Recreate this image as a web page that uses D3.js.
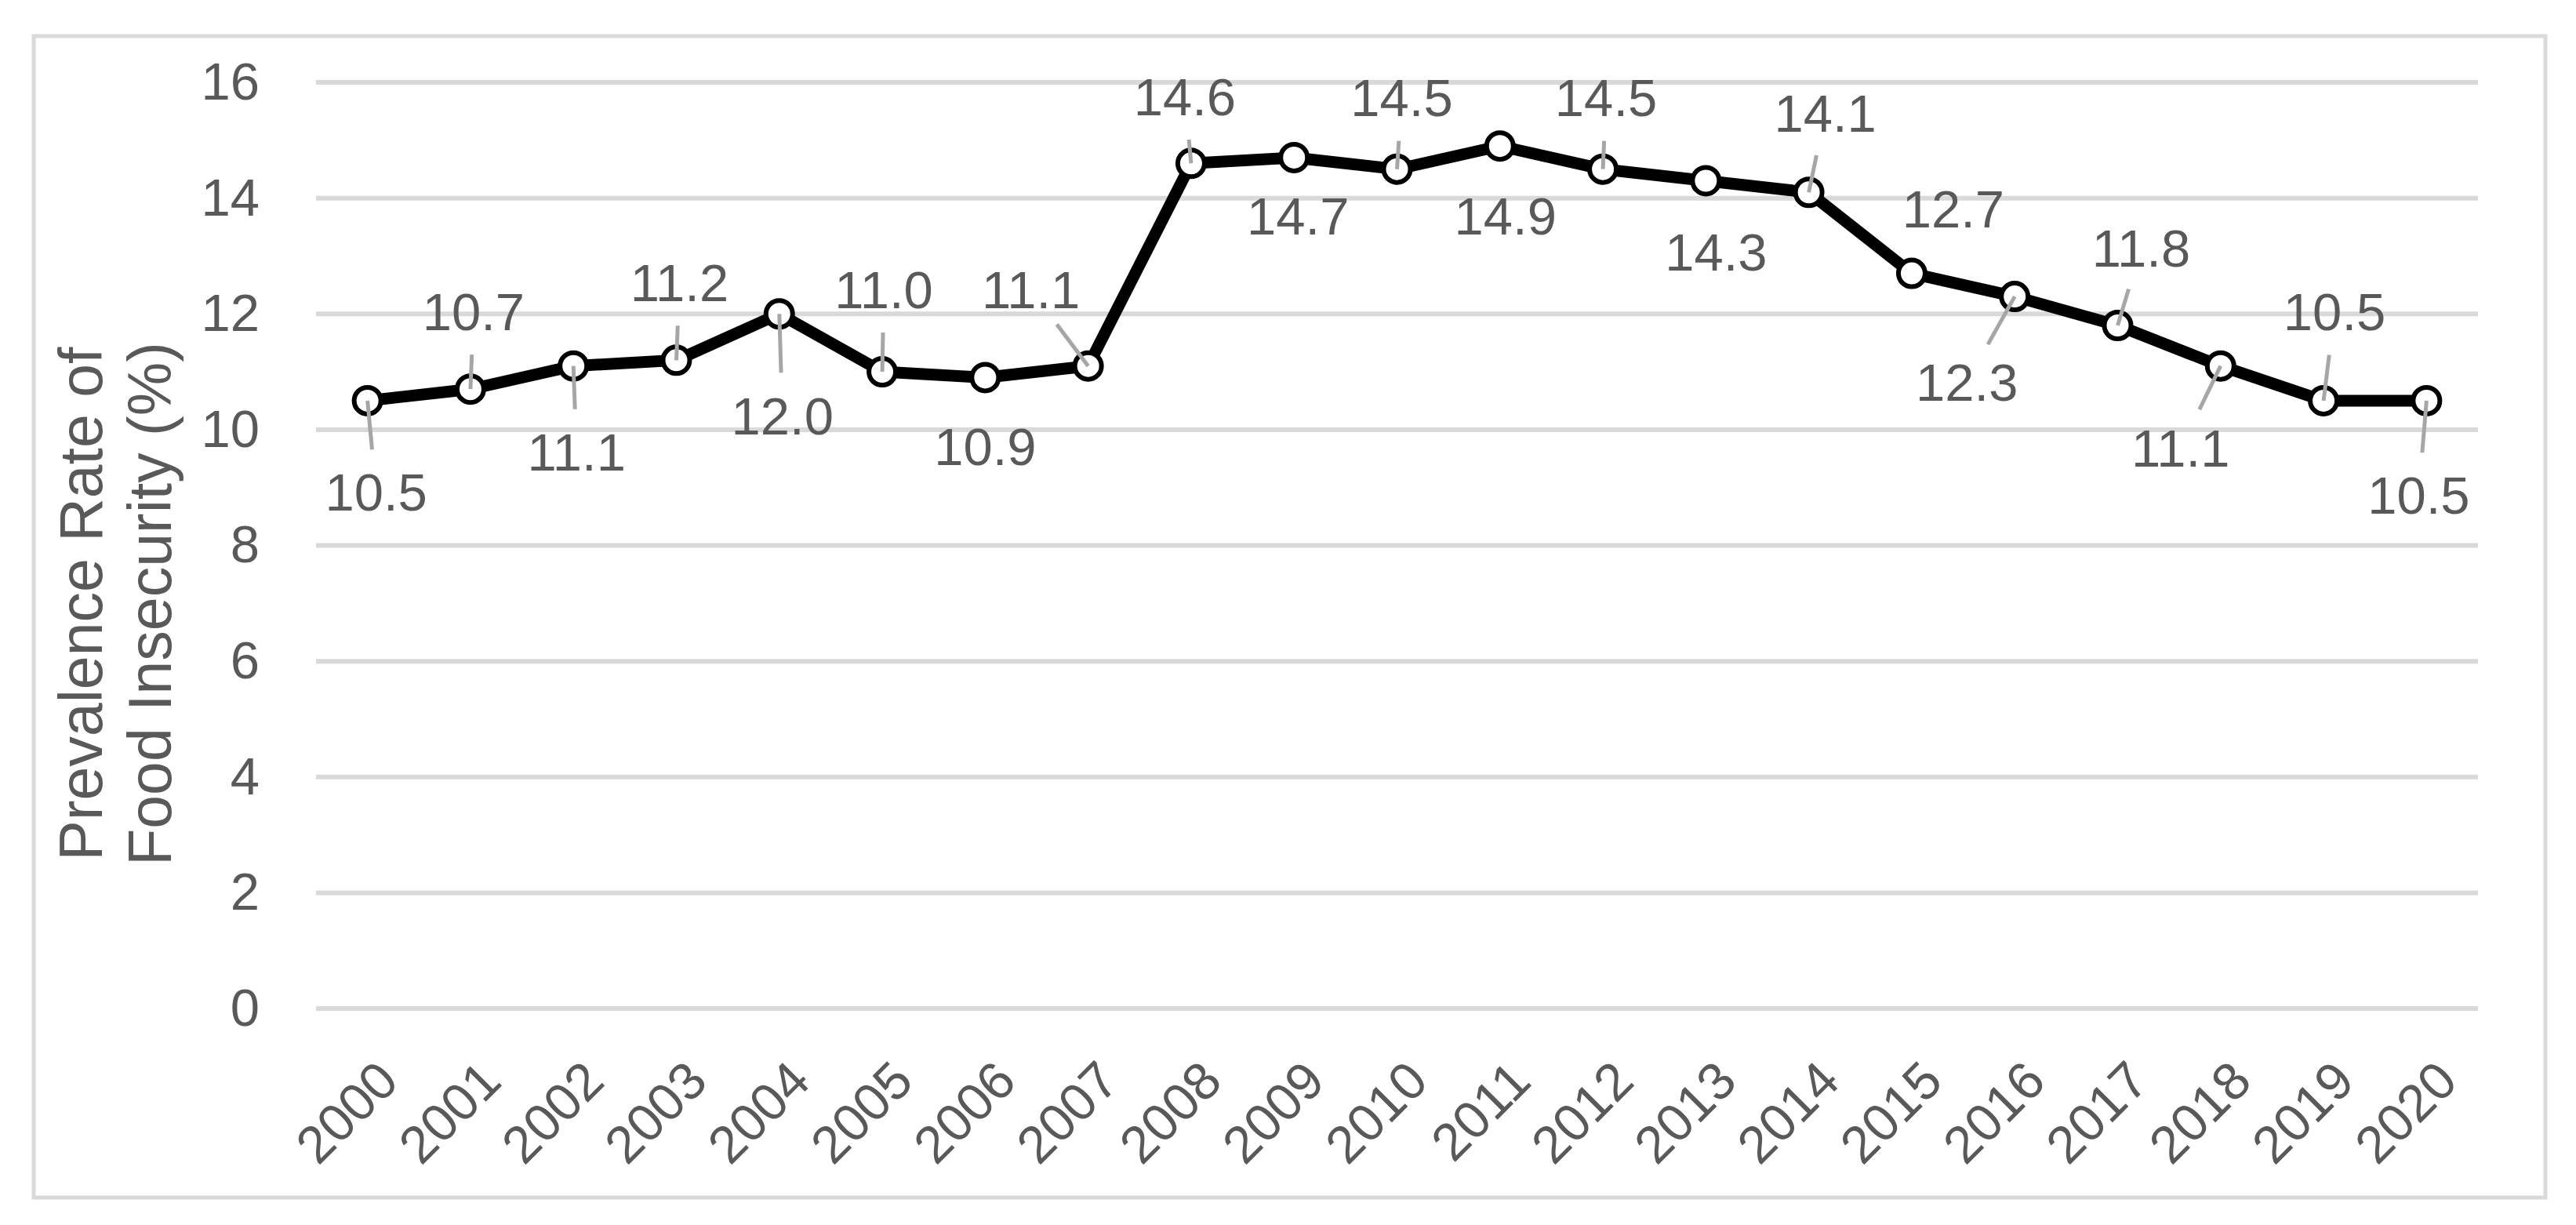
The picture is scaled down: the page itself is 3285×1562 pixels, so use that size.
<!DOCTYPE html>
<html>
<head>
<meta charset="utf-8">
<script src="https://cdn.jsdelivr.net/npm/d3@7"></script>
<style>
  body { margin: 0; background: #fff; }
  text { font-family: "Liberation Sans", Arial, sans-serif; fill: #595959; }
</style>
</head>
<body>
<svg id="chart"></svg>
<script>
const years = ["2000","2001","2002","2003","2004","2005","2006","2007","2008","2009","2010",
  "2011","2012","2013","2014","2015","2016","2017","2018","2019","2020"];
const rates = [10.5,10.7,11.1,11.2,12.0,11.0,10.9,11.1,14.6,14.7,14.5,
  14.9,14.5,14.3,14.1,12.7,12.3,11.8,11.1,10.5,10.5];
const yTicks = [0,2,4,6,8,10,12,14,16];

// label placement (offset from marker) and whether a leader line is drawn
const labelDx = [11,4,4,4,4,2,0,-73,-8,5,6,7,4,13,21,53,-61,30,-51,14,-10];
const labelDy = [117,-99,110,-99,130,-105,88,-97,-85,75,-91,89,-91,91,-101,-82,109,-99,105,-113,121];
const hasLeader = [1,1,1,1,1,1,0,1,1,0,1,0,1,0,1,0,1,1,1,1,1];

const W = 3285, H = 1562;
const plot = { left: 403, right: 3160, top: 105, bottom: 1286 };

const svg = d3.select("#chart").attr("width", W).attr("height", H);

// outer frame
svg.append("rect")
  .attr("x", 43).attr("y", 46)
  .attr("width", 3246 - 43).attr("height", 1527 - 46)
  .attr("fill", "none").attr("stroke", "#d9d9d9").attr("stroke-width", 5);

const x = d3.scalePoint().domain(years).range([plot.left, plot.right]).padding(0.5);
const y = d3.scaleLinear().domain([0, 16]).range([plot.bottom, plot.top]);

// gridlines
svg.append("g").selectAll("line").data(yTicks).enter().append("line")
  .attr("x1", plot.left).attr("x2", plot.right)
  .attr("y1", d => y(d)).attr("y2", d => y(d))
  .attr("stroke", "#d9d9d9").attr("stroke-width", 6);

// y axis
const yAxis = svg.append("g")
  .attr("transform", "translate(" + plot.left + ",0)")
  .call(d3.axisLeft(y).tickValues(yTicks).tickSize(0).tickPadding(72));
yAxis.select(".domain").remove();
yAxis.selectAll("text").attr("font-size", 67).style("fill", "#595959")
  .style("font-family", "Liberation Sans, Arial, sans-serif");

// x axis
const xAxis = svg.append("g")
  .attr("transform", "translate(0," + plot.bottom + ")")
  .call(d3.axisBottom(x).tickSize(0));
xAxis.select(".domain").remove();
xAxis.selectAll("text")
  .attr("font-size", 67).style("fill", "#595959")
  .style("font-family", "Liberation Sans, Arial, sans-serif")
  .attr("text-anchor", "end")
  .attr("y", 0).attr("dy", 0)
  .attr("transform", "translate(42,96) rotate(-45)");

// axis title
const title = svg.append("text")
  .attr("transform", "translate(0,770) rotate(-90)")
  .attr("text-anchor", "middle")
  .attr("font-size", 77);
title.append("tspan").attr("x", 0).attr("y", 130).text("Prevalence Rate of");
title.append("tspan").attr("x", 0).attr("y", 218).text("Food Insecurity (%)");

// line
const line = d3.line().x((d, i) => x(years[i])).y(d => y(d));
svg.append("path").datum(rates)
  .attr("d", line)
  .attr("fill", "none").attr("stroke", "#000").attr("stroke-width", 15)
  .attr("stroke-linejoin", "round");

// markers
svg.append("g").selectAll("circle").data(rates).enter().append("circle")
  .attr("cx", (d, i) => x(years[i])).attr("cy", d => y(d))
  .attr("r", 17).attr("fill", "#fff").attr("stroke", "#000").attr("stroke-width", 6);

// leader lines
svg.append("g").selectAll("line").data(rates).enter()
  .filter((d, i) => hasLeader[i])
  .append("line")
  .each(function (d, i) {
    const idx = rates.indexOf(d) >= 0 ? i : i;
  });
rates.forEach((d, i) => {
  if (!hasLeader[i]) return;
  const px = x(years[i]), py = y(d);
  const dx = labelDx[i], dy = labelDy[i];
  const len = Math.hypot(dx, dy);
  const f = Math.max(len - 55, 30) / len;
  svg.append("line")
    .attr("x1", px).attr("y1", py)
    .attr("x2", px + dx * f).attr("y2", py + dy * f)
    .attr("stroke", "#a6a6a6").attr("stroke-width", 5);
});

// data labels
svg.append("g").selectAll("text").data(rates).enter().append("text")
  .attr("x", (d, i) => x(years[i]) + labelDx[i])
  .attr("y", (d, i) => y(d) + labelDy[i])
  .attr("text-anchor", "middle")
  .attr("dominant-baseline", "central")
  .attr("font-size", 67)
  .text(d => d.toFixed(1));
</script>
</body>
</html>
